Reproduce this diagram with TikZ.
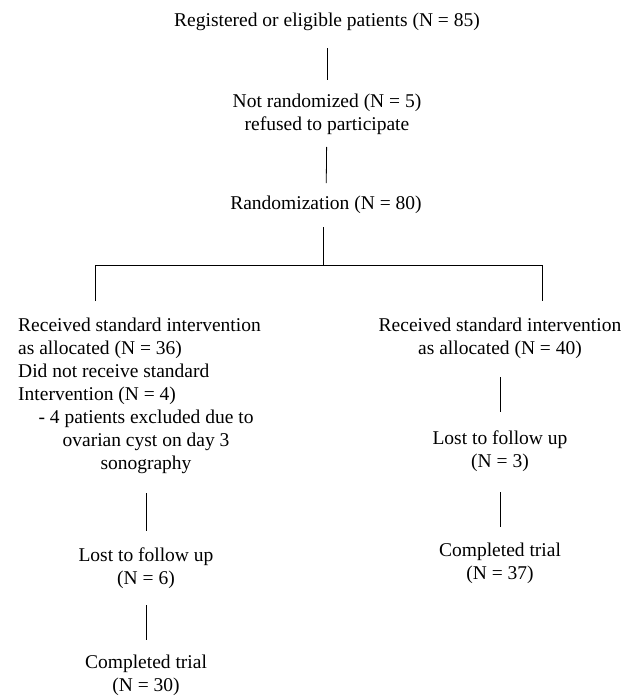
\documentclass[tikz,border=0pt]{standalone}
\usepackage{fontspec}
\setmainfont{Liberation Serif}
\begin{document}
\begin{tikzpicture}[x=1pt,y=1pt,
  txt/.style={inner sep=0pt, align=center, font=\fontsize{19.5}{23}\selectfont},
  txtl/.style={inner sep=0pt, align=left, font=\fontsize{19.5}{23}\selectfont},
  conn/.style={line width=0.8pt, draw=black}]
\useasboundingbox (0,0) rectangle (634,-697);
% nodes
\node[txt] (reg) at (327,-22) {Registered or eligible patients (N = 85)};
\node[txt] (nr) at (327,-114) {Not randomized (N = 5)\\refused to participate};
\node[txt] (rand) at (326,-205) {Randomization (N = 80)};
\node[txtl, anchor=west] (la) at (18,-361.5) {Received standard intervention\\as allocated (N = 36)\\Did not receive standard\\Intervention (N = 4)};
\node[txt] (lb) at (146,-442) {- 4 patients excluded due to\\ovarian cyst on day 3\\sonography};
\node[txt] (ll) at (146,-568.5) {Lost to follow up\\(N = 6)};
\node[txt] (lc) at (146,-675) {Completed trial\\(N = 30)};
\node[txt] (ra) at (500,-338.5) {Received standard intervention\\as allocated (N = 40)};
\node[txt] (rl) at (500,-451.5) {Lost to follow up\\(N = 3)};
\node[txt] (rc) at (500,-563.5) {Completed trial\\(N = 37)};
% coordinates of the split
\coordinate (hm) at (323,-265);
\coordinate (hl) at (95,-265);
\coordinate (hr) at (542,-265);
\coordinate (hlb) at (95,-301);
\coordinate (hrb) at (542,-301);
% connectors
\draw[conn, shorten <=26pt, shorten >=34pt] (reg.center) -- (nr.center);
\draw[conn, shorten <=33pt, shorten >=22pt] (nr.center) -- (rand.center);
\draw[conn, shorten <=22pt] (hm |- rand.center) -- (hm);
\draw[conn] (hlb) -- (hl) -- (hr) -- (hrb);
\draw[conn, shorten <=51pt, shorten >=37.5pt] (lb.center) -- (ll.center);
\draw[conn, shorten <=36.5pt, shorten >=35pt] (ll.center) -- (lc.center);
\draw[conn, shorten <=38.5pt, shorten >=39.5pt] (ra.center) -- (rl.center);
\draw[conn, shorten <=40.5pt, shorten >=36.5pt] (rl.center) -- (rc.center);
\end{tikzpicture}
\end{document}
